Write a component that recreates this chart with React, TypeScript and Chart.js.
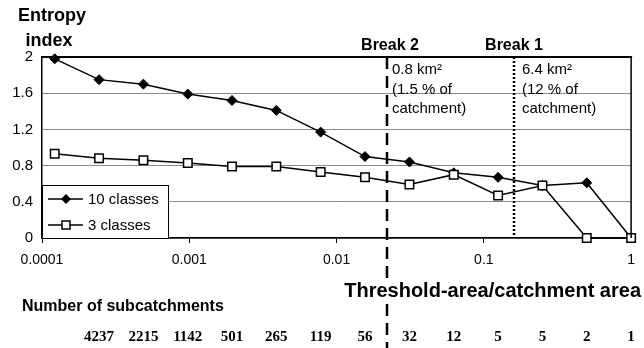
import React, { useEffect, useRef } from 'react';
import { Chart, registerables } from 'chart.js';

Chart.register(...registerables);

// Threshold-area / catchment-area ratio of each point
const thresholdRatios = [0.000122, 0.000244, 0.000488, 0.000977, 0.00195, 0.0039, 0.0078, 0.0156, 0.03125, 0.0625, 0.125, 0.25, 0.5, 1];
const entropy10Classes = [1.98, 1.75, 1.70, 1.59, 1.52, 1.41, 1.17, 0.90, 0.84, 0.72, 0.67, 0.58, 0.61, 0];
const entropy3Classes = [0.93, 0.88, 0.86, 0.83, 0.79, 0.79, 0.73, 0.67, 0.59, 0.70, 0.47, 0.58, 0, 0];
// number of subcatchments, for points 2..14
const subcatchmentCounts = ['4237', '2215', '1142', '501', '265', '119', '56', '32', '12', '5', '5', '2', '1'];
const xTickValues = [0.0001, 0.001, 0.01, 0.1, 1];
const yTickValues = [0, 0.4, 0.8, 1.2, 1.6, 2];
const breakRatios = [0.022, 0.16];
const breakTitles = ['Break 2', 'Break 1'];
const breakNotes = [
  ['0.8 km²', '(1.5 % of', 'catchment)'],
  ['6.4 km²', '(12 % of', 'catchment)'],
];
const seriesNames = ['10 classes', '3 classes'];

const SANS = '"Liberation Sans", Arial, Helvetica, sans-serif';
const SERIF = '"Liberation Serif", "Times New Roman", serif';

const overlayPlugin = {
  id: 'overlay',
  afterDraw(chart: any) {
    const ctx = chart.ctx as CanvasRenderingContext2D;
    const { left, right, top, bottom } = chart.chartArea;
    const xs = chart.scales.x;
    ctx.save();
    ctx.strokeStyle = '#000';
    ctx.fillStyle = '#000';

    // top and right frame
    ctx.lineWidth = 2;
    ctx.beginPath();
    ctx.moveTo(left, top);
    ctx.lineTo(right + 1, top);
    ctx.stroke();
    ctx.lineWidth = 1.5;
    ctx.beginPath();
    ctx.moveTo(right, top);
    ctx.lineTo(right, bottom);
    ctx.stroke();

    // break lines
    const b2 = Math.round(xs.getPixelForValue(breakRatios[0]));
    const b1 = Math.round(xs.getPixelForValue(breakRatios[1]));
    ctx.lineWidth = 2.5;
    ctx.setLineDash([12, 7]);
    ctx.beginPath();
    ctx.moveTo(b2, top);
    ctx.lineTo(b2, chart.height);
    ctx.stroke();
    ctx.lineWidth = 2.5;
    ctx.setLineDash([2, 2]);
    ctx.beginPath();
    ctx.moveTo(b1, top);
    ctx.lineTo(b1, bottom);
    ctx.stroke();
    ctx.setLineDash([]);

    // break titles
    ctx.font = `bold 16px ${SANS}`;
    ctx.textAlign = 'center';
    ctx.textBaseline = 'alphabetic';
    ctx.fillText(breakTitles[0], b2 + 3, 50);
    ctx.fillText(breakTitles[1], b1, 50);

    // break notes
    ctx.font = `15px ${SANS}`;
    ctx.textAlign = 'left';
    breakNotes[0].forEach((t, i) => ctx.fillText(t, b2 + 5, 74 + i * 19.5));
    breakNotes[1].forEach((t, i) => ctx.fillText(t, b1 + 8, 74 + i * 19.5));

    // y title
    ctx.font = `bold 18px ${SANS}`;
    ctx.textAlign = 'center';
    ctx.fillText('Entropy', 52, 21);
    ctx.fillText('index', 49, 46);

    // x title (white backing interrupts the break line)
    ctx.font = `bold 20px ${SANS}`;
    ctx.textAlign = 'right';
    const tw = ctx.measureText('Threshold-area/catchment area').width;
    ctx.fillStyle = '#fff';
    ctx.fillRect(641 - tw - 2, 279, tw + 4, 24);
    ctx.fillStyle = '#000';
    ctx.fillText('Threshold-area/catchment area', 641, 297);

    // subcatchments
    ctx.font = `bold 16px ${SANS}`;
    ctx.textAlign = 'left';
    ctx.fillText('Number of subcatchments', 22, 311);
    ctx.font = `bold 15px ${SERIF}`;
    ctx.textAlign = 'center';
    subcatchmentCounts.forEach((c, i) => {
      const px = xs.getPixelForValue(thresholdRatios[i + 1]);
      ctx.fillText(c, px, 341);
    });

    // legend
    const lx = left, ly = 185, lw = 126, lh = 53;
    ctx.fillStyle = '#fff';
    ctx.fillRect(lx, ly, lw, lh);
    ctx.strokeStyle = '#000';
    ctx.lineWidth = 1;
    ctx.strokeRect(lx + 0.5, ly + 0.5, lw, lh);
    const rows = [199, 225];
    rows.forEach((ry, i) => {
      ctx.strokeStyle = '#000';
      ctx.lineWidth = 1.5;
      ctx.beginPath();
      ctx.moveTo(lx + 6, ry);
      ctx.lineTo(lx + 41, ry);
      ctx.stroke();
      const mx = lx + 24;
      if (i === 0) {
        ctx.fillStyle = '#000';
        ctx.beginPath();
        ctx.moveTo(mx, ry - 5);
        ctx.lineTo(mx + 5, ry);
        ctx.lineTo(mx, ry + 5);
        ctx.lineTo(mx - 5, ry);
        ctx.closePath();
        ctx.fill();
      } else {
        ctx.fillStyle = '#fff';
        ctx.fillRect(mx - 4, ry - 4, 8, 8);
        ctx.strokeRect(mx - 4, ry - 4, 8, 8);
      }
      ctx.fillStyle = '#000';
      ctx.font = `15px ${SANS}`;
      ctx.textAlign = 'left';
      ctx.textBaseline = 'middle';
      ctx.fillText(seriesNames[i], lx + 46, ry + 1);
      ctx.textBaseline = 'alphabetic';
    });

    ctx.restore();
  },
};

export default function App() {
  const ref = useRef<HTMLCanvasElement | null>(null);
  useEffect(() => {
    document.body.style.margin = '0';
    const canvas = ref.current!;
    const chart = new Chart(canvas, {
      type: 'line',
      data: {
        datasets: [
          {
            label: seriesNames[0],
            data: thresholdRatios.map((x, i) => ({ x, y: entropy10Classes[i] })),
            borderColor: '#000',
            borderWidth: 1.5,
            backgroundColor: '#000',
            pointStyle: 'rectRot',
            pointRadius: 5,
            pointBorderWidth: 1,
            pointBackgroundColor: '#000',
            pointBorderColor: '#000',
            tension: 0,
            clip: false,
            order: 1,
          },
          {
            label: seriesNames[1],
            data: thresholdRatios.map((x, i) => ({ x, y: entropy3Classes[i] })),
            borderColor: '#000',
            borderWidth: 1.5,
            backgroundColor: '#fff',
            pointStyle: 'rect',
            pointRadius: 6,
            pointBorderWidth: 1.5,
            pointBackgroundColor: '#fff',
            pointBorderColor: '#000',
            tension: 0,
            clip: false,
            order: 0,
          },
        ],
      },
      options: {
        animation: false,
        responsive: false,
        maintainAspectRatio: false,
        layout: { padding: { top: 57, right: 11, left: 0, bottom: 0 } },
        plugins: { legend: { display: false }, tooltip: { enabled: false } },
        scales: {
          x: {
            type: 'logarithmic',
            min: 0.0001,
            max: 1,
            afterBuildTicks: (s: any) => {
              s.ticks = xTickValues.map((v) => ({ value: v }));
            },
            afterFit: (s: any) => {
              s.height = 110;
            },
            ticks: {
              autoSkip: false,
              maxRotation: 0,
              padding: 9,
              color: '#000',
              font: { family: SANS, size: 14 },
              callback: (v: any) => String(v),
            },
            grid: { drawOnChartArea: false, drawTicks: true, tickLength: 5, color: '#000', lineWidth: 1 },
            border: { color: '#000', width: 1.5 },
          },
          y: {
            min: 0,
            max: 2,
            afterBuildTicks: (s: any) => {
              s.ticks = yTickValues.map((v) => ({ value: v }));
            },
            afterFit: (s: any) => {
              s.width = 42;
            },
            ticks: {
              padding: 9,
              color: '#000',
              font: { family: SANS, size: 15 },
              callback: (v: any) => String(Number(Number(v).toFixed(1))),
            },
            grid: { drawTicks: false, color: '#8c8c8c', lineWidth: 1 },
            border: { color: '#000', width: 1.5 },
          },
        },
      },
      plugins: [overlayPlugin],
    });
    return () => chart.destroy();
  }, []);
  return (
    <div style={{ position: 'absolute', left: 0, top: 0, width: 644, height: 348, background: '#fff' }}>
      <canvas ref={ref} width={644} height={348} style={{ width: 644, height: 348, display: 'block' }} />
    </div>
  );
}
